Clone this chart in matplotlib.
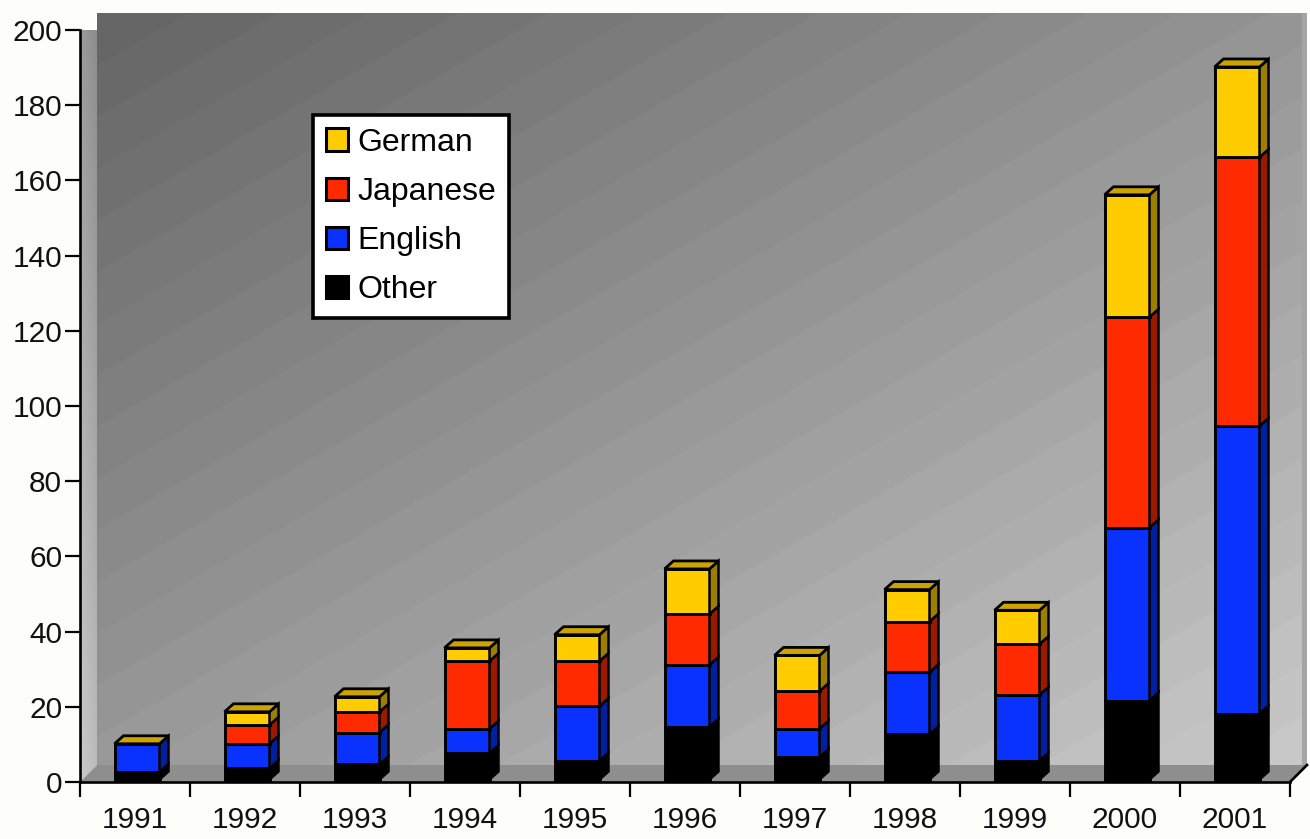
import numpy as np
import matplotlib
matplotlib.use("Agg")
import matplotlib.pyplot as plt
from matplotlib.patches import Polygon, Patch
from matplotlib import transforms

# ---- data -------------------------------------------------------------
years = ["1991", "1992", "1993", "1994", "1995", "1996",
         "1997", "1998", "1999", "2000", "2001"]
other    = [2.0, 3.0, 4.0, 7.0, 5.0, 14.0, 6.0, 12.0, 5.0, 21.0, 17.5]
english  = [7.5, 6.5, 8.5, 6.5, 14.5, 16.5, 7.5, 16.5, 17.5, 46.0, 76.5]
japanese = [0.0, 5.0, 5.5, 18.0, 12.0, 13.5, 10.0, 13.5, 13.5, 56.0, 71.5]
german   = [0.0, 3.5, 4.0, 3.5, 7.0, 12.0, 9.5, 8.5, 9.0, 32.5, 24.0]
y_ticks = list(range(0, 201, 20))

series = [
    ("Other",    other,    "#000000", "#000000", "#000000"),
    ("English",  english,  "#0A32FF", "#00209E", "#0A28CC"),
    ("Japanese", japanese, "#FF2A00", "#9A1A00", "#CC2200"),
    ("German",   german,   "#FFCC00", "#9C7E00", "#CCA300"),
]

# ---- figure / axes geometry ------------------------------------------
W, H, DPI = 1310, 839, 100
plt.rcParams["font.family"] = ["Liberation Sans", "DejaVu Sans"]
fig = plt.figure(figsize=(W / DPI, H / DPI), dpi=DPI, facecolor="#fdfdfa")

ax_l, ax_r, ax_t, ax_b = 80, 1290, 30, 782
ax = fig.add_axes([ax_l / W, (H - ax_b) / H, (ax_r - ax_l) / W, (ax_b - ax_t) / H])
ax.set_xlim(-0.5, 10.5)
ax.set_ylim(0, 200)
ax.patch.set_visible(False)

px_x = 11.0 / (ax_r - ax_l)      # data units per pixel
px_y = 200.0 / (ax_b - ax_t)

# depth of the pseudo-3D box
wall_dx, wall_dy = 17 * px_x, 17 * px_y

# ---- back wall with banded diagonal gradient ---------------------------
ww, wh = ax_r - ax_l, ax_b - ax_t
X, Y = np.meshgrid(np.arange(ww), np.arange(wh))
s = 0.48 * X / ww + 0.52 * Y / wh
s = np.floor(s * 28) / 28
val = (102 + 102 * s).clip(0, 255).astype(np.uint8)
img = np.dstack([val, val, val])
ax.imshow(img, extent=(-0.5 + wall_dx, 10.5 + wall_dx, wall_dy, 200 + wall_dy),
          origin="upper", aspect="auto", interpolation="nearest",
          clip_on=False, zorder=0)
# light right edge of the wall
ax.add_patch(Polygon([(10.5 + wall_dx - 5 * px_x, wall_dy),
                      (10.5 + wall_dx, wall_dy),
                      (10.5 + wall_dx, 200 + wall_dy),
                      (10.5 + wall_dx - 5 * px_x, 200 + wall_dy)],
                     closed=True, facecolor="#a4a4a4", edgecolor="none",
                     clip_on=False, zorder=0.5))

# ---- left side wall ----------------------------------------------------
side_poly = Polygon([(-0.5, 0), (-0.5, 200), (-0.5 + wall_dx, 200 + wall_dy),
                     (-0.5 + wall_dx, wall_dy)], closed=True,
                    facecolor="none", edgecolor="none", clip_on=False,
                    transform=ax.transData)
ax.add_patch(side_poly)
sw, sh = 17, wh + 17
SX, SY = np.meshgrid(np.linspace(0, 1, sw), np.linspace(0, 1, sh))
sval = (140 + 48 * SY + 14 * (1 - SX)).clip(0, 255).astype(np.uint8)
simg = ax.imshow(np.dstack([sval, sval, sval]),
                 extent=(-0.5, -0.5 + wall_dx, 0, 200 + wall_dy),
                 origin="upper", aspect="auto", interpolation="bilinear",
                 zorder=0.6)
simg.set_clip_path(side_poly)

# ---- floor -------------------------------------------------------------
ax.add_patch(Polygon([(-0.5, 0), (-0.5 + wall_dx, wall_dy),
                      (10.5 + wall_dx, wall_dy), (10.5, 0)], closed=True,
                     facecolor="#8e8e8e", edgecolor="none",
                     clip_on=False, zorder=1))
ax.plot([10.5, 10.5 + wall_dx], [0, wall_dy], color="black", lw=1.9,
        solid_capstyle="projecting", clip_on=False, zorder=10)

# ---- stacked 3D bars ---------------------------------------------------
bar_tr = transforms.offset_copy(ax.transData, fig=fig, x=1, y=2.5, units="dots")
bar_w = 45 * px_x
bar_dx, bar_dy = 9 * px_x, 8 * px_y
xpos = np.arange(len(years)) + 1 * px_x

bottom = np.zeros(len(years))
for name, vals, face, side, top in series:
    vals = np.asarray(vals, dtype=float)
    ax.bar(xpos, vals, width=bar_w, bottom=bottom, color=face,
           edgecolor="black", linewidth=2.1, transform=bar_tr, zorder=3)
    for xi, b, h in zip(xpos, bottom, vals):
        r = xi + bar_w / 2
        ax.add_patch(Polygon([(r, b), (r, b + h), (r + bar_dx, b + h + bar_dy),
                              (r + bar_dx, b + bar_dy)], closed=True,
                             facecolor=side, edgecolor="black", linewidth=1.8,
                             joinstyle="miter", transform=bar_tr, zorder=3))
    bottom = bottom + vals

# top faces carry the colour of the uppermost series
top_col = series[-1][4]
for xi, t in zip(xpos, bottom):
    l, r = xi - bar_w / 2, xi + bar_w / 2
    ax.add_patch(Polygon([(l, t), (r, t), (r + bar_dx, t + bar_dy),
                          (l + bar_dx, t + bar_dy)], closed=True,
                         facecolor=top_col, edgecolor="black", linewidth=2.0,
                         joinstyle="miter", transform=bar_tr, zorder=3.5))

# ---- axes --------------------------------------------------------------
for side_name in ("top", "right"):
    ax.spines[side_name].set_visible(False)
for side_name in ("left", "bottom"):
    ax.spines[side_name].set_linewidth(1.9)
    ax.spines[side_name].set_zorder(10)

ax.set_yticks(y_ticks)
ax.set_yticklabels([str(v) for v in y_ticks])
ax.tick_params(axis="y", direction="out", length=10.8, width=1.6, pad=2,
               labelsize=21.5, labelcolor="#111111")

ax.set_xticks(np.arange(-0.5, 11, 1.0))
ax.set_xticklabels([])
ax.set_xticks(np.arange(len(years)), minor=True)
ax.set_xticklabels(years, minor=True)
ax.tick_params(axis="x", which="major", direction="out", length=10.8, width=1.6)
ax.tick_params(axis="x", which="minor", length=0, pad=17, labelsize=21.5,
               labelcolor="#111111")

# ---- legend ------------------------------------------------------------
handles = [Patch(facecolor=face, edgecolor="black", linewidth=2.2, label=name)
           for name, _, face, _, _ in reversed(series)]
leg = ax.legend(handles=handles, loc="upper left",
                bbox_to_anchor=(313 / W, 1 - 115 / H),
                bbox_transform=fig.transFigure, frameon=True, fancybox=False,
                edgecolor="black", facecolor="white", framealpha=1,
                fontsize=23, handlelength=0.7, handleheight=0.7,
                handletextpad=0.3, labelspacing=0.6, borderpad=0.4,
                borderaxespad=0)
leg.get_frame().set_linewidth(2.6)
leg.set_zorder(20)

fig.savefig("out.png", dpi=DPI, facecolor=fig.get_facecolor())
